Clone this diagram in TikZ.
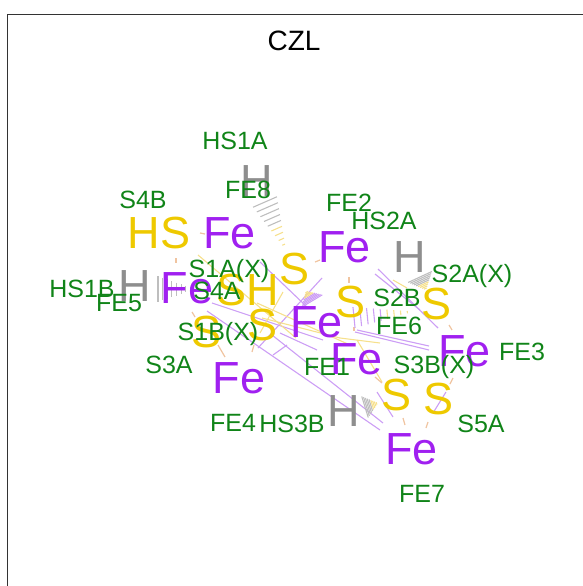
\documentclass[tikz,border=0pt]{standalone}
\usepackage{fontspec}
\setmainfont{Liberation Sans}
\tikzset{
    % Colors
    fe color/.style={color={rgb,255:red,160;green,32;blue,240}},
    s color/.style={color={rgb,255:red,238;green,201;blue,0}},
    h color/.style={color={rgb,255:red,142;green,142;blue,142}},
    name color/.style={color={rgb,255:red,16;green,132;blue,24}},
    %
    % Atoms and labels
    atom/.style={inner sep=0pt,font=\fontsize{45}{45}\selectfont},
    fe atom/.style={atom,fe color},
    s atom/.style={atom,s color},
    h atom/.style={atom,h color},
    atomname/.style={inner sep=0pt,name color,font=\fontsize{25}{25}\selectfont},
    %
    % Bonds
    fe bond/.style={line width=1.1pt,color={rgb,255:red,204;green,158;blue,245}},
    s bond/.style={line width=1.1pt,color={rgb,255:red,246;green,224;blue,140}},
    h bond/.style={line width=1.1pt,color={rgb,255:red,190;green,190;blue,190}},
    stub bond/.style={line width=1.2pt,color={rgb,255:red,240;green,196;blue,160}}
}
% hashed bond: x1,y1 (wide end), x2,y2 (tip), width, steps, first half, second half
\newcommand{\hashwedge}[8]{%
    \pgfmathsetmacro{\wlen}{veclen(#3-#1,#4-#2)}
    \pgfmathsetmacro{\wnx}{-(#4-#2)/\wlen}
    \pgfmathsetmacro{\wny}{(#3-#1)/\wlen}
    \foreach \i in {0,...,#6}{
        \pgfmathsetmacro{\wpos}{\i/#6}
        \pgfmathsetmacro{\whw}{#5/2*(1-\wpos)}
        \pgfmathsetmacro{\wcx}{#1+(#3-#1)*\wpos}
        \pgfmathsetmacro{\wcy}{#2+(#4-#2)*\wpos}
        \pgfmathparse{\wpos<.5 ? "#7" : "#8"}
        \edef\wstyle{\pgfmathresult}
        \draw[style=\wstyle] (\wcx-\wnx*\whw,\wcy-\wny*\whw) -- (\wcx+\wnx*\whw,\wcy+\wny*\whw);
    }
}

\begin{document}
\begin{tikzpicture}[x=1pt,y=-1pt]
    \useasboundingbox (0,0) rectangle (583,586);
    \draw[line width=.8pt,color=black!80] (7.5,586) -- (7.5,14) -- (583,14);
    \node[inner sep=0pt,font=\fontsize{28}{28}\selectfont] (title) at (294,41) {CZL};

    % long bonds
    \foreach \xa/\ya/\xb/\yb in {378/269/438/328,375/274/420/310,357/330/429/346,355/332/429/350,
        377/392/393/417,207/311/380/430,272/335/383/423,212/303/323/340,280/333/317/350,
        322/278/258/348,260/262/307/307,273/355/287/345,446/392/433/413}{
        \draw[fe bond] (\xa,\ya) -- (\xb,\yb);
    }
    \foreach \xa/\ya/\xb/\yb in {393/280/407/288,340/338/380/343,357/340/382/382,198/255/296/338,
        257/303/350/345,283/292/260/333,262/318/340/338}{
        \draw[s bond] (\xa,\ya) -- (\xb,\yb);
    }
    % short stubs
    \foreach \xa/\ya/\xb/\yb in {315/262/320/260,349/277/349/283,449/325/452/330,453/378/450/384,
        428/422/426/428,403/418/405/425,200/233/205/234,176/258/176/263,192/312/195/317,
        218/345/225/357,252/352/254/345,375/377/382/383,354/327/354/331}{
        \draw[stub bond] (\xa,\ya) -- (\xb,\yb);
    }
    % hashed bonds
    \hashwedge{265}{202}{286}{250}{26}{9}{h bond}{s bond}
    \hashwedge{158}{289}{195}{289}{26}{8}{h bond}{h bond}
    \hashwedge{354}{317.5}{414}{311.5}{21}{9}{fe bond}{s bond}
    \hashwedge{420}{277}{426}{290}{26}{9}{h bond}{s bond}
    \hashwedge{365}{407}{378}{403}{22}{9}{h bond}{s bond}
    \hashwedge{312}{301}{306}{291}{24}{9}{fe bond}{s bond}

    % atoms
    \node[fe atom] (fe8) at (229.5,233.5) {Fe};
    \node[s atom] (hs4b) at (159,233.5) {HS};
    \node[h atom] (hs1a) at (257,181.5) {H};
    \node[h atom] (hs1b) at (135,286.5) {H};
    \node[fe atom] (fe5) at (187,288.5) {Fe};
    \node[s atom] (s1a) at (295,269.5) {S};
    \node[s atom] (s4a) at (247.5,290.5) {SH};
    \node[s atom] (s1b) at (263,325.5) {S};
    \node[s atom] (s3a) at (207,332.5) {S};
    \node[fe atom] (fe4) at (239,378.5) {Fe};
    \node[fe atom] (fe1) at (316.5,322.5) {Fe};
    \node[fe atom] (fe2) at (344.5,247.5) {Fe};
    \node[s atom] (s2b) at (351,302.5) {S};
    \node[h atom] (hs2a) at (410,257.5) {H};
    \node[s atom] (s2a) at (437,304.5) {S};
    \node[fe atom] (fe6) at (356.5,359.5) {Fe};
    \node[fe atom] (fe3) at (464.5,351.5) {Fe};
    \node[s atom] (s3b) at (397,395.5) {S};
    \node[s atom] (s5a) at (439,399.5) {S};
    \node[h atom] (hs3b) at (344,411.5) {H};
    \node[fe atom] (fe7) at (411.5,449.5) {Fe};

    % atom names
    \foreach \nm/\xa/\ya/\txt in {n1/235/141/HS1A,n2/248/190/FE8,n3/143/200/S4B,n4/349/203/FE2,
        n5/384/221/HS2A,n6/229/271.5/S1A(X),n7/217/291/S4A,n8/82/289/HS1B,n9/119/303/FE5,
        n10/472/276.5/S2A(X),n11/397/298/S2B,n12/399/326/FE6,n13/218/334.5/S1B(X),n14/169/365/S3A,
        n15/327/367/FE1,n16/434/367.5/S3B(X),n17/522/352/FE3,n18/233/423/FE4,n19/292/424/HS3B,
        n20/481/424/S5A,n21/422/494/FE7}{
        \node[atomname] (\nm) at (\xa,\ya) {\txt};
    }
\end{tikzpicture}
\end{document}
